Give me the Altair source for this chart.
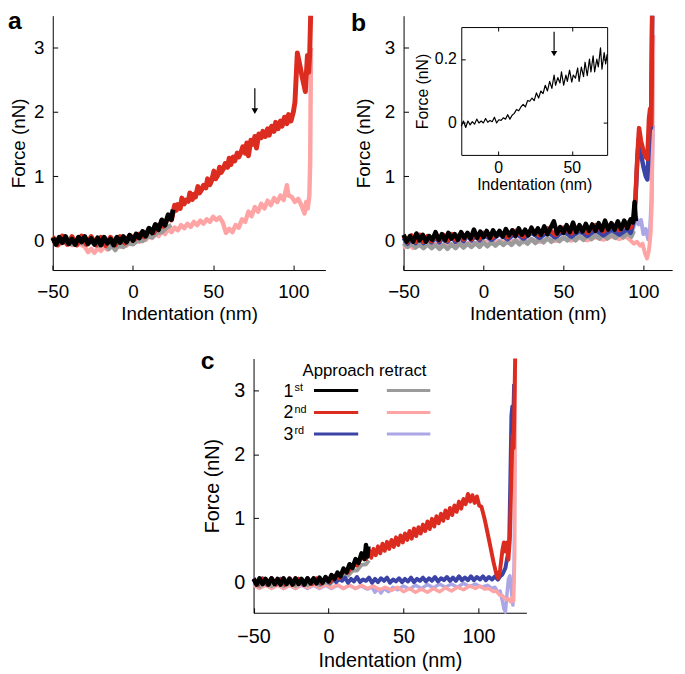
import altair as alt
import pandas as pd

FONT = "Liberation Sans"
W, H = 677, 666

C_BLACK = "#000000"
C_GRAY = "#9b9b9b"
C_RED = "#dc2b1f"
C_PINK = "#ffa4a4"
C_BLUE = "#3b44a6"
C_LAV = "#aba6e6"

# ---------------- panel a ----------------
a_black = [(-50,0.04),(-48,-0.06),(-46,0.05),(-44,-0.03),(-42,0.06),(-40,-0.05),(-38,0.02),(-36,-0.06),(-34,0.05),(-32,-0.02),
           (-30,0.06),(-28,-0.05),(-26,0.03),(-24,-0.06),(-22,0.04),(-20,-0.07),(-18,0.05),(-16,-0.04),(-14,0.02),(-12,-0.07),
           (-10,0.05),(-8,-0.03),(-6,0.06),(-4,-0.02),(-2,0.08),(0,0.0),(2,0.10),(4,0.04),(6,0.14),(8,0.07),
           (10,0.19),(12,0.12),(14,0.25),(16,0.17),(18,0.32),(20,0.24),(22,0.40),(24,0.33),(25,0.48)]
a_gray = [(-50,0.0),(-46,-0.05),(-42,0.02),(-38,-0.06),(-34,0.0),(-30,-0.06),(-26,-0.02),(-22,-0.08),(-18,-0.04),(-15,-0.13),
          (-13,-0.06),(-11,-0.15),(-9,-0.07),(-6,-0.1),(-3,-0.04),(0,-0.06),(3,0.0),(6,-0.01),(9,0.06),(12,0.05),
          (15,0.12),(18,0.13),(21,0.2),(24,0.24)]
a_red = [(-50,0.06),(-47,-0.07),(-44,0.07),(-41,-0.06),(-38,0.06),(-35,-0.07),(-32,0.07),(-29,-0.06),(-26,0.06),(-23,-0.07),
         (-20,0.05),(-17,-0.08),(-14,0.05),(-11,-0.07),(-8,0.06),(-5,-0.04),(-2,0.08),(1,0.02),(4,0.1),(7,0.06),
         (10,0.16),(13,0.12),(16,0.24),(19,0.22),(22,0.36),(24,0.32),
         (26,0.55),(27,0.47),(28,0.56),(29.5,0.5),(30.5,0.66),(32,0.57),(33,0.63),(34.5,0.61),(35.5,0.74),(37,0.64),
         (38,0.72),(39,0.68),(40.5,0.84),(41.5,0.74),(43,0.8),(44,0.86),(45.5,0.82),(46.5,0.96),(48,0.87),(49,0.93),
         (50.5,1.08),(51.5,0.96),(53,1.02),(54,1.14),(55,1.06),(56.5,1.12),(57.5,1.2),(59,1.14),(60,1.28),(61,1.18),
         (62.5,1.3),(63.5,1.24),(65,1.36),(66,1.3),(67.5,1.38),(68.5,1.46),(70,1.36),(71,1.52),(72,1.32),(73.5,1.56),
         (75,1.5),(76,1.62),(77,1.44),(78.5,1.66),(80,1.6),(81,1.7),(82.5,1.62),(84,1.74),(85,1.64),(86.5,1.78),
         (88,1.7),(89,1.84),(90.5,1.74),(92,1.86),(93,1.78),(94.5,1.92),(96,1.82),(97,1.96),(98.5,1.86),(100,2.0),
         (101,2.15),(102.5,2.92),(105.5,2.55),(107.5,2.32),(108.8,2.88),(109.6,2.62),(110.2,2.9),(110.8,3.5)]
a_pink = [(-50,-0.02),(-46,-0.06),(-42,-0.02),(-38,-0.07),(-34,-0.04),(-30,-0.1),(-28,-0.18),(-26,-0.13),(-24,-0.19),(-22,-0.12),
          (-20,-0.16),(-18,-0.1),(-16,-0.14),(-14,-0.08),(-12,-0.12),(-10,-0.06),(-8,-0.1),(-6,-0.04),(-4,-0.08),(-2,-0.02),
          (0,-0.05),(2,0.01),(4,-0.02),(6,0.04),(8,0.01),(10,0.08),(12,0.04),(14,0.11),(16,0.07),(18,0.14),
          (20,0.1),(22,0.18),(24,0.13),(26,0.2),(28,0.16),(30,0.24),(32,0.19),(34,0.26),(36,0.21),(38,0.29),
          (40,0.24),(42,0.31),(44,0.26),(46,0.33),(48,0.29),(50,0.37),(52,0.32),(54,0.36),(56,0.28),(57,0.2),
          (58,0.12),(60,0.18),(62,0.13),(64,0.24),(66,0.2),(68,0.33),(70,0.29),(72,0.45),(74,0.38),(76,0.52),
          (78,0.45),(80,0.57),(82,0.5),(84,0.62),(86,0.55),(88,0.66),(90,0.6),(92,0.7),(94,0.63),(96,0.86),
          (97,0.7),(99,0.68),(101,0.6),(103,0.65),(105,0.55),(107,0.42),(108,0.6),(109,0.5),(110,0.7),(110.5,1.2),
          (111,3.0)]
a_arrow_x = [76]
a_arrow_y = [2.37, 2.05]
a_arrow_tip = [2.015]

# ---------------- panel b ----------------
b_lav = [(-50,-0.1),(-47,-0.04),(-44,-0.11),(-41,-0.05),(-38,-0.1),(-35,-0.04),(-32,-0.09),(-29,-0.03),(-26,-0.08),(-23,-0.03),
         (-20,-0.08),(-16,-0.03),(-12,-0.07),(-8,-0.02),(-4,-0.06),(0,-0.01),(5,-0.05),(10,0.0),(15,-0.04),(20,0.01),
         (25,-0.03),(30,0.02),(35,-0.02),(40,0.03),(45,-0.01),(50,0.04),(55,0.0),(60,0.05),(65,0.01),(70,0.06),
         (75,0.02),(80,0.07),(85,0.03),(89,0.08),(92,0.05),(94,0.22),(95.5,0.36),(97,0.25),(98.5,0.32),(100,0.1),
         (101.5,0.18),(103,0.02),(104,0.08),(105,0.6),(106,1.8)]
b_pink = [(-50,-0.12),(-47,-0.06),(-44,-0.12),(-41,-0.06),(-38,-0.11),(-35,-0.05),(-32,-0.1),(-29,-0.04),(-26,-0.09),(-23,-0.04),
          (-20,-0.08),(-16,-0.03),(-12,-0.07),(-8,-0.03),(-4,-0.06),(0,-0.02),(5,-0.05),(10,-0.01),(15,-0.04),(20,0.0),
          (25,-0.03),(30,0.01),(35,-0.02),(40,0.02),(45,-0.01),(50,0.03),(55,0.0),(60,0.04),(65,0.0),(70,0.05),
          (75,0.01),(80,0.06),(85,0.02),(89,0.06),(92,0.0),(94,-0.05),(96,-0.02),(98,-0.08),(99.5,-0.05),(101,-0.2),
          (102.3,-0.28),(103.5,-0.15),(104.5,0.1),(105.3,0.6),(105.8,2.0),(106.2,3.2)]
b_gray = [(-50,-0.04),(-47.5,-0.1),(-45,-0.05),(-42.5,-0.11),(-40,-0.06),(-37.5,-0.12),(-35,-0.06),(-32.5,-0.12),(-30,-0.07),(-27.5,-0.13),
          (-25,-0.07),(-22.5,-0.13),(-20,-0.06),(-17.5,-0.12),(-15,-0.05),(-12.5,-0.11),(-10,-0.05),(-7.5,-0.1),(-5,-0.04),(-2.5,-0.1),
          (0,-0.03),(2.5,-0.09),(5,-0.02),(7.5,-0.08),(10,-0.02),(12.5,-0.07),(15,-0.01),(17.5,-0.07),(20,0.0),(22.5,-0.06),
          (25,0.01),(27.5,-0.05),(30,0.02),(32.5,-0.04),(35,0.03),(37.5,-0.03),(40,0.04),(42.5,-0.02),(45,0.05),(47.5,-0.01),
          (50,0.05),(52.5,0.0),(55,0.06),(57.5,0.0),(60,0.07),(62.5,0.01),(65,0.08),(67.5,0.02),(70,0.08),(72.5,0.03),
          (75,0.09),(77.5,0.03),(80,0.1),(82.5,0.04),(85,0.11),(87.5,0.05),(90,0.12),(92.5,0.06),(94,0.15)]
b_blue = [(-50,0.04),(-47.5,-0.05),(-45,0.05),(-42.5,-0.04),(-40,0.06),(-37.5,-0.04),(-35,0.05),(-32.5,-0.03),(-30,0.06),(-27.5,-0.03),
          (-25,0.07),(-22.5,-0.02),(-20,0.06),(-17.5,-0.02),(-15,0.07),(-12.5,-0.01),(-10,0.08),(-7.5,0.0),(-5,0.08),(-2.5,0.0),
          (0,0.09),(5,0.01),(10,0.1),(15,0.02),(20,0.11),(25,0.03),(30,0.12),(35,0.04),(40,0.13),(45,0.05),
          (50,0.14),(55,0.06),(60,0.15),(65,0.07),(70,0.16),(75,0.08),(80,0.17),(85,0.09),(90,0.18),(92,0.12),
          (94,0.3),(95,0.6),(96.3,1.3),(97.3,1.6),(98.5,1.35),(100,1.15),(101.5,1.0),(102.5,0.95),(103.5,1.5),(104.3,1.85),
          (104.8,1.75),(105.5,3.5)]
b_red = [(-50,0.07),(-47.5,-0.03),(-45,0.08),(-42.5,-0.02),(-40,0.09),(-37.5,-0.02),(-35,0.07),(-32.5,-0.01),(-30,0.08),(-27.5,0.0),
         (-25,0.09),(-22.5,0.0),(-20,0.1),(-17.5,0.01),(-15,0.09),(-12.5,0.02),(-10,0.1),(-7.5,0.02),(-5,0.11),(-2.5,0.03),
         (0,0.12),(5,0.04),(10,0.13),(15,0.05),(20,0.15),(25,0.06),(30,0.17),(35,0.08),(40,0.19),(45,0.09),
         (50,0.2),(55,0.11),(60,0.22),(65,0.12),(70,0.24),(75,0.14),(80,0.26),(85,0.16),(90,0.28),(92,0.2),
         (94,0.35),(95,0.65),(96.2,1.3),(97.3,1.75),(98.5,1.55),(100,1.4),(101.5,1.3),(102.5,1.27),(103.5,1.9),(104.2,2.05),
         (104.8,1.8),(105.5,3.5)]
b_black = [(-50,0.09),(-48,-0.02),(-46,0.07),(-44,-0.02),(-42,0.11),(-40,0.0),(-38,0.09),(-36,-0.02),(-34,0.07),(-32,0.01),
           (-30,0.13),(-28,0.01),(-26,0.1),(-24,0.0),(-22,0.12),(-20,0.03),(-18,0.1),(-16,0.01),(-14,0.13),(-12,0.04),
           (-10,0.12),(-8,0.03),(-6,0.17),(-4,0.04),(-2,0.14),(0,0.05),(2,0.15),(4,0.04),(6,0.16),(8,0.07),
           (10,0.15),(12,0.06),(14,0.18),(16,0.08),(18,0.16),(20,0.07),(22,0.19),(24,0.09),(26,0.17),(28,0.08),
           (30,0.2),(32,0.1),(34,0.19),(36,0.09),(38,0.22),(40,0.1),(42,0.2),(44,0.3),(46,0.11),(48,0.21),
           (50,0.12),(52,0.24),(54,0.13),(56,0.28),(58,0.13),(60,0.24),(62,0.14),(64,0.26),(66,0.15),(68,0.25),
           (70,0.15),(72,0.27),(74,0.16),(76,0.31),(78,0.17),(80,0.27),(82,0.17),(84,0.3),(86,0.18),(88,0.31),
           (90,0.19),(92,0.33),(93.5,0.28),(94.5,0.6),(95.3,0.3)]

# inset of panel b
inset_black = [(-25,-0.01),(-23.5,0.006),(-22,-0.014),(-20.5,0.006),(-19,-0.006),(-17.5,0.004),(-16,-0.004),(-14.5,0.012),(-13,0.0),(-11.5,0.006),
               (-10,0.0),(-8.5,0.014),(-7,0.002),(-5.5,0.008),(-4,0.004),(-2.5,0.018),(-1,0.0),(0.5,0.01),(2,0.008),(3.5,0.016),
               (5,0.012),(6.5,0.026),(8,0.012),(9.5,0.024),(11,0.03),(12.5,0.042),(14,0.038),(15.5,0.05),(17,0.058),(18.5,0.05),
               (20,0.07),(21.5,0.068),(23,0.078),(24.5,0.07),(26,0.094),(27.5,0.078),(29,0.1),(30.5,0.092),(32,0.118),(33.5,0.1),
               (35,0.13),(36.5,0.108),(38,0.15),(39,0.118),(40.5,0.142),(42,0.125),(43,0.16),(44.5,0.118),(46,0.15),(47,0.13),
               (48.5,0.165),(50,0.128),(51,0.15),(52.5,0.14),(54,0.172),(55,0.13),(56.5,0.175),(58,0.145),(59,0.19),(60.5,0.148),
               (62,0.2),(63,0.16),(64.5,0.21),(65.5,0.16),(67,0.2),(68,0.175),(69.5,0.235),(70.5,0.168),(72,0.22),(73,0.185),
               (74,0.215)]
inset_arrow_x = [38]
inset_arrow_y = [0.285, 0.226]
inset_arrow_tip = [0.217]

# ---------------- panel c ----------------
c_lav = [(-50,-0.03),(-46,-0.09),(-42,-0.04),(-38,-0.09),(-34,-0.04),(-30,-0.1),(-26,-0.05),(-22,-0.1),(-18,-0.05),(-14,-0.1),
         (-10,-0.05),(-6,-0.1),(-2,-0.05),(2,-0.1),(6,-0.05),(10,-0.1),(14,-0.05),(18,-0.1),(22,-0.06),(26,-0.11),
         (29,-0.08),(31,-0.16),(33,-0.1),(35,-0.17),(37,-0.1),(40,-0.15),(43,-0.08),(46,-0.12),(50,-0.06),(54,-0.11),
         (58,-0.05),(62,-0.1),(66,-0.04),(70,-0.09),(74,-0.03),(78,-0.08),(82,-0.03),(86,-0.08),(90,-0.02),(94,-0.07),
         (98,-0.03),(102,-0.08),(106,-0.05),(109,-0.1),(111,-0.08),(113,-0.16),(114.5,-0.14),(116,-0.3),(117,-0.42),(118,-0.47),
         (119,-0.2),(120,0.05),(121,0.1),(122,-0.15),(123,-0.36),(123.8,0.3),(124.3,2.0)]
c_pink = [(-50,-0.05),(-46,-0.1),(-42,-0.05),(-38,-0.1),(-34,-0.05),(-30,-0.1),(-26,-0.05),(-22,-0.1),(-18,-0.04),(-14,-0.09),
          (-10,-0.04),(-6,-0.09),(-2,-0.04),(2,-0.09),(6,-0.04),(10,-0.1),(14,-0.05),(18,-0.1),(22,-0.05),(26,-0.1),
          (30,-0.06),(34,-0.12),(38,-0.08),(42,-0.13),(46,-0.08),(50,-0.15),(54,-0.1),(58,-0.16),(62,-0.11),(66,-0.16),
          (70,-0.1),(74,-0.15),(78,-0.09),(82,-0.14),(86,-0.08),(90,-0.12),(94,-0.06),(98,-0.1),(101,-0.06),(104,-0.11),
          (107,-0.1),(110,-0.15),(112,-0.14),(114,-0.2),(116,-0.21),(118,-0.27),(120,-0.26),(121.5,-0.31),(122.5,-0.24),(123.5,-0.3),
          (124.2,0.4),(124.6,3.3)]
c_gray = [(-50,-0.02),(-46,-0.07),(-42,-0.01),(-38,-0.06),(-34,-0.01),(-30,-0.06),(-26,-0.01),(-22,-0.06),(-18,0.0),(-14,-0.05),
          (-10,0.0),(-6,-0.05),(-2,0.0),(1,-0.03),(4,0.04),(7,0.03),(10,0.1),(13,0.1),(16,0.18),(19,0.18),
          (22,0.27),(25,0.28),(27,0.34)]
c_blue = [(-50,0.06),(-47,-0.04),(-44,0.06),(-41,-0.04),(-38,0.06),(-35,-0.04),(-32,0.05),(-29,-0.04),(-26,0.06),(-23,-0.03),
          (-20,0.05),(-17,-0.04),(-14,0.06),(-11,-0.03),(-8,0.05),(-5,-0.03),(-2,0.06),
          (1,-0.01),(3,0.06),(5,0.0),(7,0.05),(9,0.02),(11,0.07),(13,-0.01),(15,0.05),(17,0.01),(19,0.08),
          (21,0.0),(23,0.04),(25,0.02),(27,0.07),(29,-0.01),(31,0.05),(33,0.0),(35,0.06),(37,0.02),(39,0.07),
          (41,-0.01),(43,0.04),(45,0.01),(47,0.06),(49,0.0),(51,0.05),(53,0.01),(55,0.07),(57,0.0),(59,0.05),
          (61,0.02),(63,0.07),(65,0.01),(67,0.06),(69,0.02),(71,0.08),(73,0.01),(75,0.06),(77,0.03),(79,0.08),
          (81,0.02),(83,0.07),(85,0.02),(87,0.09),(89,0.03),(91,0.07),(93,0.03),(95,0.09),(97,0.03),(99,0.08),
          (101,0.04),(103,0.09),(105,0.03),(107,0.08),(109,0.04),(111,0.09),(113,0.04),(114.5,0.09),
          (116,0.12),(118,0.22),(119.5,0.42),(120.5,0.6),(121.3,1.6),(122,2.6),(122.6,2.75),(123.2,2.5),(123.8,3.1)]
c_red = [(-50,0.05),(-47,-0.04),(-44,0.05),(-41,-0.03),(-38,0.06),(-35,-0.03),(-32,0.04),(-29,-0.04),(-26,0.06),(-23,-0.03),
         (-20,0.05),(-17,-0.03),(-14,0.05),(-11,-0.03),(-8,0.06),(-5,-0.02),(-2,0.07),(1,0.0),(4,0.1),(7,0.06),
         (10,0.18),(13,0.15),(16,0.27),(19,0.26),(22,0.38),(25,0.36),(27,0.5),(28.5,0.38),(30,0.52),(31.5,0.42),
         (33,0.56),(34.5,0.45),(36,0.6),(37.5,0.49),(39,0.63),(40.5,0.52),(42,0.66),(43.5,0.55),(45,0.7),(46.5,0.58),
         (48,0.73),(49.5,0.62),(51,0.76),(52.5,0.66),(54,0.8),(55.5,0.68),(57,0.84),(58.5,0.72),(60,0.86),(61.5,0.76),
         (63,0.9),(64.5,0.8),(66,0.95),(67.5,0.83),(69,0.99),(70.5,0.87),(72,1.03),(73.5,0.92),(75,1.07),(76.5,0.96),
         (78,1.12),(79.5,1.0),(81,1.16),(82.5,1.05),(84,1.2),(85.5,1.1),(87,1.26),(88.5,1.15),(90,1.3),(91.5,1.22),
         (93,1.38),(94.5,1.26),(96,1.36),(97.5,1.24),(99,1.34),(100.5,1.2),(102,1.18),(104,1.0),(106,0.78),(108,0.55),
         (110,0.32),(112,0.12),(113.2,0.06),(114.5,0.2),(116,0.5),(117,0.62),(118,0.48),(119,0.62),(120,0.35),(121,0.7),
         (122,1.7),(122.8,2.3),(123.5,2.1),(124.5,3.5)]
c_black = [(-50,0.05),(-48,-0.04),(-46,0.06),(-44,-0.03),(-42,0.05),(-40,-0.04),(-38,0.06),(-36,-0.03),(-34,0.05),(-32,-0.04),
           (-30,0.06),(-28,-0.03),(-26,0.05),(-24,-0.04),(-22,0.06),(-20,-0.03),(-18,0.05),(-16,-0.04),(-14,0.06),(-12,-0.02),
           (-10,0.06),(-8,-0.02),(-6,0.07),(-4,-0.01),(-2,0.08),(0,0.01),(2,0.11),(4,0.05),(6,0.15),(8,0.09),
           (10,0.21),(12,0.15),(14,0.28),(16,0.22),(18,0.36),(20,0.3),(22,0.45),(24,0.36),(25,0.58),(26,0.4),
           (26.6,0.56)]

# legend of panel c
leg_rows = ["1", "2", "3"]
leg_sup = ["st", "nd", "rd"]
leg_row_y = [3.0, 2.654, 2.318]
leg_label_y = [2.90, 2.566, 2.23]
leg_sup_y = [2.99, 2.654, 2.318]
leg_approach_colors = [C_BLACK, C_RED, C_BLUE]
leg_retract_colors = [C_GRAY, C_PINK, C_LAV]
leg_approach_x = [-9.7, 19.8]
leg_retract_x = [38.9, 67.9]
leg_label_x = -23.5
leg_sup_x = -22.7
leg_header = "Approach retract"
leg_header_x = 24.0
leg_header_y = 3.22

# ---------------- helpers ----------------
TICK_IN = alt.ExprRef(expr="-5")
TICK_IN_S = alt.ExprRef(expr="-4")


def scale(domain, rng):
    return alt.Scale(domain=domain, range=rng, zero=False, nice=False)


def axis(orient, offset, values=None, fs=18, title=None, lpad=14, tpad=4, labels=True, fmt="d", tick=TICK_IN):
    kw = dict(orient=orient, offset=offset, grid=False, tickSize=tick, tickColor="black", tickWidth=1,
              domainColor="black", domainWidth=1, labelFontSize=fs, titleFontSize=fs, labelPadding=lpad,
              titlePadding=tpad, labelFlush=False, labelColor="black", titleColor="black",
              titleFontWeight="normal", labelFont=FONT, titleFont=FONT, labels=labels, title=title)
    if values is not None:
        kw["values"] = values
    if fmt is not None:
        kw["format"] = fmt
    return alt.Axis(**kw)


class Panel:
    def __init__(self, sx, sy, xa, ya):
        self.sx, self.sy, self.xa, self.ya = sx, sy, xa, ya

    def enc(self, **extra):
        return dict(x=alt.X("x:Q", scale=self.sx, axis=self.xa),
                    y=alt.Y("y:Q", scale=self.sy, axis=self.ya), **extra)

    def line(self, pts, color, sw=3.0, opacity=1.0):
        df = pd.DataFrame(pts, columns=["x", "y"])
        return alt.Chart(df).mark_line(color=color, strokeWidth=sw, strokeJoin="round",
                                       opacity=opacity).encode(**self.enc())

    def arrow(self, xv, yv, tip, size):
        rdf = pd.DataFrame({"x": xv, "y": [yv[0]], "y2": [yv[1]]})
        tdf = pd.DataFrame({"x": xv, "y": tip})
        r = alt.Chart(rdf).mark_rule(color="black", strokeWidth=1.2).encode(**self.enc(y2="y2:Q"))
        t = alt.Chart(tdf).mark_point(shape="triangle-down", filled=True, size=size, color="black",
                                      opacity=1).encode(**self.enc())
        return [r, t]

    def text(self, df, size, align):
        return alt.Chart(df).mark_text(align=align, baseline="alphabetic", fontSize=size, font=FONT,
                                       color="black").encode(**self.enc(text="t:N"))


# ---------------- panel a ----------------
pa = Panel(scale([-50, 120], [45.3, 321.2]), scale([-0.46, 3.5], [261.2, 3.8]),
           axis("bottom", 261.2 - H, [-50, 0, 50, 100], 19, "Indentation (nm)", lpad=18, tpad=3),
           axis("left", -45.3, [0, 1, 2, 3], 19, "Force (nN)", lpad=14, tpad=5))
panel_a = alt.layer(
    pa.line(a_pink, C_PINK, 4.5),
    pa.line(a_gray, C_GRAY, 4.5),
    pa.line(a_red, C_RED, 5.0),
    pa.line(a_black, C_BLACK, 5.0),
    *pa.arrow(a_arrow_x, a_arrow_y, a_arrow_tip, 45),
)

# ---------------- panel b ----------------
pb = Panel(scale([-50, 118], [400.3, 672.1]), scale([-0.46, 3.5], [261.2, 3.8]),
           axis("bottom", 261.2 - H, [-50, 0, 50, 100], 19, "Indentation (nm)", lpad=18, tpad=3),
           axis("left", -400.3, [0, 1, 2, 3], 19, "Force (nN)", lpad=14, tpad=11))
panel_b = alt.layer(
    pb.line(b_lav, C_LAV, 4.0),
    pb.line(b_pink, C_PINK, 4.0),
    pb.line(b_gray, C_GRAY, 4.5),
    pb.line(b_blue, C_BLUE, 4.5),
    pb.line(b_red, C_RED, 4.5),
    pb.line(b_black, C_BLACK, 4.5),
)

# inset
pi = Panel(scale([-25, 74], [458.7, 606.3]), scale([-0.1, 0.3], [144.7, 15.3]),
           axis("bottom", 144.7 - H, [0, 50], 16, "Indentation (nm)", lpad=9, tpad=1, tick=TICK_IN_S),
           axis("left", -458.7, [0, 0.2], 16, "Force (nN)", lpad=9, tpad=4, fmt="~g", tick=TICK_IN_S))
inset = alt.layer(
    pi.line(inset_black, C_BLACK, 1.2),
    *pi.arrow(inset_arrow_x, inset_arrow_y, inset_arrow_tip, 40),
)
pi_box = Panel(scale([-25, 74], [458.7, 606.3]), scale([-0.1, 0.3], [144.7, 15.3]),
               axis("top", -15.3, [0, 50], 16, None, labels=False, tick=TICK_IN_S),
               axis("right", 606.3 - W, [0, 0.2], 16, None, labels=False, fmt="~g", tick=TICK_IN_S))
inset_box = pi_box.line(inset_black, C_BLACK, 1, opacity=0)

# ---------------- panel c ----------------
pc = Panel(scale([-50, 132], [248.5, 524.6]), scale([-0.48, 3.5], [608.0, 350.7]),
           axis("bottom", 608.0 - H, [-50, 0, 50, 100], 20, "Indentation (nm)", lpad=19, tpad=4),
           axis("left", -248.5, [0, 1, 2, 3], 20, "Force (nN)", lpad=14, tpad=11))

leg_lines = []
for i in range(3):
    leg_lines.append(pc.line(list(zip(leg_approach_x, [leg_row_y[i]] * 2)), leg_approach_colors[i], 3))
    leg_lines.append(pc.line(list(zip(leg_retract_x, [leg_row_y[i]] * 2)), leg_retract_colors[i], 3))
lab_df = pd.DataFrame({"x": [leg_label_x] * 3, "y": leg_label_y, "t": leg_rows})
sup_df = pd.DataFrame({"x": [leg_sup_x] * 3, "y": leg_sup_y, "t": leg_sup})
hdr_df = pd.DataFrame({"x": [leg_header_x], "y": [leg_header_y], "t": [leg_header]})

panel_c = alt.layer(
    pc.line(c_lav, C_LAV, 3.5),
    pc.line(c_pink, C_PINK, 3.5),
    pc.line(c_gray, C_GRAY, 4.0),
    pc.line(c_blue, C_BLUE, 4.0),
    pc.line(c_red, C_RED, 4.0),
    pc.line(c_black, C_BLACK, 4.5),
    *leg_lines,
    pc.text(lab_df, 18, "right"),
    pc.text(sup_df, 11, "left"),
    pc.text(hdr_df, 17, "center"),
)

# panel letters
letters = []
for t, px, py in (("a", 0, 17), ("b", 347, 19), ("c", 195, 361)):
    letters.append(alt.Chart(alt.Data(values=[{"k": 1}])).mark_text(
        text=t, fontSize=25, fontWeight="bold", font=FONT, align="left", baseline="alphabetic", color="black"
    ).encode(x=alt.value(px), y=alt.value(py)))

chart = alt.layer(panel_a, panel_b, inset, inset_box, panel_c, *letters).resolve_scale(
    x="independent", y="independent"
).properties(
    width=W, height=H, padding=0, autosize=alt.AutoSizeParams(type="none")
).configure_view(strokeWidth=0).configure_axis(labelFont=FONT, titleFont=FONT).configure_text(font=FONT)

chart.save("out.html", embed_options={"renderer": "svg", "actions": False})
